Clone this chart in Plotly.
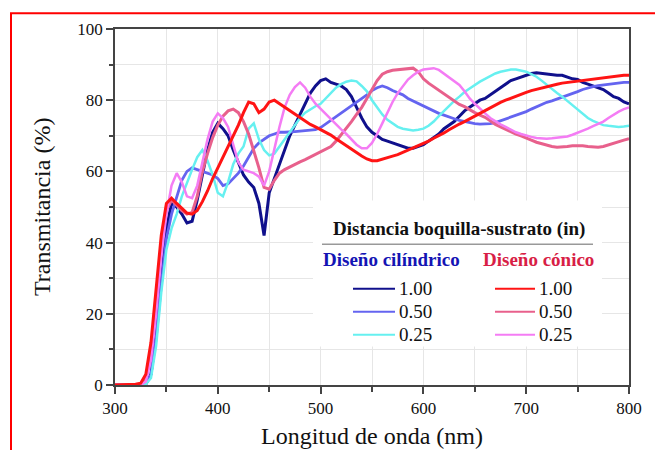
import plotly.graph_objs as go

# WAVELENGTH AXIS (nm)
wavelength = [300, 310, 320] + list(range(325, 801, 5))

# DISENO CILINDRICO, distancia 1.00 / 0.50 / 0.25 in
cil_100 = [0, 0, 0, 0, 0.3, 3, 14, 30, 44, 51, 50, 48, 45.5, 46, 52, 59, 66, 71, 73.5,
           72, 70, 66, 62.5, 59, 57, 55.5, 51, 42, 54, 58, 62, 66, 70, 73, 76, 79, 82, 84,
           85.5, 86, 85, 84.5, 84, 83, 81, 78, 75, 72.5, 71, 70, 69, 68.5, 68, 67.5, 67, 66.5,
           66.5, 67, 67.5, 68.5, 69.5, 70.5, 72, 73, 74, 75.5, 77, 78, 79, 80, 80.5, 81.5,
           82.5, 83.5, 84.5, 85.5, 86, 86.5, 87, 87.5, 87.7, 87.5, 87.5, 87.2, 87, 87, 86.5,
           86, 85.8, 85, 84.5, 84, 83.5, 83, 82, 81, 80.5, 79.5, 79]
cil_050 = [0, 0, 0, 0, 0.2, 3, 13, 28, 41, 48, 53, 57.5, 60, 61, 60.5, 60, 59.5, 59, 58,
           56, 56.5, 58, 59.5, 61.5, 64, 66.5, 68, 69, 70, 70.5, 71, 71, 71, 71.2, 71.3, 71.5,
           71.5, 71.7, 72.3, 73.3, 74.5, 75.5, 76.5, 77.5, 78.5, 79.5, 80.5, 81.5, 82.7, 83.5,
           84, 83.5, 82.7, 82, 81.5, 80.5, 79.8, 79, 78.5, 77.8, 77, 76.3, 75.8, 75.2, 74.8,
           74.3, 74, 73.6, 73.4, 73.3, 73.3, 73.4, 73.7, 74.2, 74.8, 75.3, 75.8, 76.2, 76.8,
           77.5, 78.2, 78.8, 79.4, 79.8, 80.3, 80.8, 81.2, 81.8, 82.4, 83, 83.5, 83.8, 84.1,
           84.3, 84.4, 84.6, 84.8, 85, 85]
cil_025 = [0, 0, 0, 0, 0.2, 2, 11, 26, 38, 44, 48, 53, 57, 60.5, 64, 66, 63, 59, 54,
           53, 57, 62, 65, 67, 72, 73.5, 69, 66, 64.5, 65, 67, 69, 71, 73, 75, 76.5, 77.5,
           78.3, 79, 80.5, 82, 83.5, 84.5, 85.2, 85.5, 85.3, 84, 82.5, 80, 78, 76, 74.5, 73.5,
           72.5, 72, 71.7, 71.5, 71.7, 72, 72.8, 74, 75.5, 77, 78.5, 79.8, 81, 82.3, 83.3,
           84.3, 85.2, 86, 86.8, 87.5, 88, 88.3, 88.6, 88.6, 88.4, 88, 87.3, 86.6, 85.5, 84.3,
           83.2, 82, 81, 79.8, 78.5, 77.2, 76, 75, 74.2, 73.5, 73, 72.8, 72.6, 72.5, 72.6, 72.8]

# DISENO CONICO, distancia 1.00 / 0.50 / 0.25 in
con_100 = [0, 0, 0.2, 0.5, 3, 12, 28, 42, 51, 52.5, 51, 49.5, 48.3, 48, 49, 51.5, 54.5,
           58, 61, 64, 67, 70, 73, 76.5, 79.5, 79, 76.5, 77.5, 79.5, 80, 79, 78, 77, 76, 75,
           74, 73.2, 72.5, 71.8, 71, 70.2, 69.2, 68.2, 67.2, 66.2, 65.2, 64.3, 63.5, 63, 63,
           63.5, 64, 64.3, 64.7, 65.3, 66, 66.7, 67.3, 67.8, 68.5, 69.3, 70, 70.8, 71.7, 72.6,
           73.3, 74, 74.8, 75.5, 76.3, 77.1, 77.9, 78.7, 79.4, 80, 80.6, 81.2, 81.7, 82.2,
           82.7, 83.1, 83.5, 83.9, 84.2, 84.5, 84.8, 85, 85.2, 85.4, 85.6, 85.8, 86, 86.2,
           86.3, 86.5, 86.6, 86.8, 87, 87]
con_050 = [0, 0, 0, 0.3, 2, 9, 24, 39, 49, 52, 50.5, 49, 48, 48.5, 53, 60, 65, 69.5, 73,
           75.5, 77, 77.5, 76.5, 74, 70.5, 66, 61, 55.5, 55, 57.5, 59.5, 60.5, 61.3, 62, 62.7,
           63.3, 64, 64.7, 65.5, 66.3, 67, 68.5, 70.3, 72, 74, 76, 78, 80.5, 83, 85.5, 87.3,
           88, 88.4, 88.6, 88.7, 88.9, 89, 88, 86, 84.8, 83.8, 82.6, 81.8, 80.8, 79.8, 78.8,
           78.2, 77.3, 76.5, 75.8, 75.2, 74.2, 73.2, 72.5, 71.8, 71, 70.5, 70, 69.5, 68.8,
           68.2, 67.8, 67.3, 67, 66.8, 66.8, 67, 67.2, 67.3, 67.2, 67, 66.8, 66.8, 67, 67.5,
           68, 68.3, 68.8, 69.2]
con_025 = [0, 0, 0, 0, 1, 7, 20, 36, 48, 56, 59.5, 57, 53, 52.5, 56, 63, 69, 74, 76.3,
           75, 72.5, 67.5, 62.5, 60.5, 60, 59.5, 58.5, 56, 60, 66.5, 72.5, 78, 81.5, 83.7, 85,
           83.5, 81, 79, 77.5, 76, 74.7, 73.2, 71.8, 70.5, 69, 67.5, 66.5, 66.5, 68, 70.5,
           73.5, 76.5, 79.5, 82, 84, 85.8, 87, 88, 88.6, 88.8, 89, 88.5, 87.5, 86.5, 85.5,
           84.3, 82.5, 80.5, 79, 77.5, 76.3, 75, 74, 73.2, 72.5, 71.7, 71, 70.5, 70, 69.7,
           69.4, 69.2, 69.2, 69.3, 69.5, 69.6, 69.8, 70.3, 70.8, 71.3, 72, 72.7, 73.3, 74, 75,
           76, 76.8, 77.5, 78]

distances = ['1.00', '0.50', '0.25']
cil_series = [cil_100, cil_050, cil_025]
con_series = [con_100, con_050, con_025]
cil_colors = ['#10108c', '#6464f0', '#66f0f0']
con_colors = ['#ff1414', '#e8608c', '#f47cf4']
# noisy spectra look thicker than the smooth ones
cil_widths = [3, 2.8, 2.5]
con_widths = [3, 3, 2.5]

SERIF = 'Liberation Serif, Times New Roman, serif'

trace_arr = []
for i in range(3):
    trace_arr.append(go.Scatter(x=wavelength, y=cil_series[i], mode='lines',
                                name='Cil ' + distances[i], showlegend=False,
                                line=dict(color=cil_colors[i], width=cil_widths[i])))
for i in [1, 2, 0]:
    trace_arr.append(go.Scatter(x=wavelength, y=con_series[i], mode='lines',
                                name='Con ' + distances[i], showlegend=False,
                                line=dict(color=con_colors[i], width=con_widths[i])))


# page pixel -> paper (plot area sits at 115..629 x 24..385 on the page)
def px(x):
    return (x - 115) / 514.0


def py(y):
    return (385 - y) / 361.0


axis_common = dict(showline=True, linecolor='#444', linewidth=1.5, mirror=True,
                   ticks='outside', ticklen=7, tickwidth=1.5, tickcolor='#444',
                   showgrid=True, gridcolor='#e6e6e6', gridwidth=1, zeroline=False,
                   tickfont=dict(family=SERIF, size=17, color='#111'))

# page body has an 8px margin, so the figure is 8px smaller than the window
layout = go.Layout(
    width=655, height=442, autosize=False,
    margin=dict(l=107, r=34, t=16, b=65),
    paper_bgcolor='white', plot_bgcolor='white',
    xaxis=dict(range=[300, 800], dtick=100, tick0=300,
               minor=dict(dtick=50, ticks='outside', ticklen=5, tickcolor='#444',
                          showgrid=True, gridcolor='#e6e6e6'),
               **axis_common),
    yaxis=dict(range=[0, 100], dtick=20, tick0=0,
               minor=dict(dtick=10, ticks='outside', ticklen=4, tickcolor='#444',
                          showgrid=True, gridcolor='#e6e6e6'),
               **axis_common),
)

shapes = [
    # outer red frame
    dict(type='rect', xref='paper', yref='paper', x0=px(11), x1=px(660), y0=py(470), y1=py(8),
         line=dict(color='#ff0000', width=2)),
    # legend white box
    dict(type='rect', xref='paper', yref='paper', x0=px(313), x1=px(602), y0=py(346), y1=py(198),
         fillcolor='white', line=dict(width=0), layer='above'),
    # legend separator
    dict(type='line', xref='paper', yref='paper', x0=px(322), x1=px(593), y0=py(242.3), y1=py(242.3),
         line=dict(color='#999', width=1.5), layer='above'),
]

annotations = [
    dict(text='Transmitancia (%)', xref='paper', yref='paper', x=px(42), y=0.5, textangle=-90,
         showarrow=False, xanchor='center', yanchor='middle', font=dict(family=SERIF, size=24, color='#111')),
    dict(text='Longitud de onda (nm)', xref='paper', yref='paper', x=px(372), y=py(437),
         showarrow=False, xanchor='center', yanchor='middle', font=dict(family=SERIF, size=24, color='#111')),
    dict(text='<b>Distancia boquilla-sustrato (in)</b>', xref='paper', yref='paper', x=px(458.5), y=py(227),
         showarrow=False, xanchor='center', yanchor='middle', font=dict(family=SERIF, size=19, color='#111')),
    dict(text='<b>Diseño cilíndrico</b>', xref='paper', yref='paper', x=px(391.5), y=py(258),
         showarrow=False, xanchor='center', yanchor='middle', font=dict(family=SERIF, size=19, color='#1414b4')),
    dict(text='<b>Diseño cónico</b>', xref='paper', yref='paper', x=px(538.5), y=py(258),
         showarrow=False, xanchor='center', yanchor='middle', font=dict(family=SERIF, size=19, color='#d81e46')),
]

# LEGEND ROWS
row_y = [287.3, 310.7, 334]
for i in range(3):
    for x0, x1, color in [(353, 395, cil_colors[i]), (495, 535, con_colors[i])]:
        shapes.append(dict(type='line', xref='paper', yref='paper', x0=px(x0), x1=px(x1),
                           y0=py(row_y[i]), y1=py(row_y[i]), line=dict(color=color, width=2),
                           layer='above'))
        annotations.append(dict(text=distances[i], xref='paper', yref='paper', x=px(x1 + 2),
                                y=py(row_y[i]), showarrow=False, xanchor='left', yanchor='middle',
                                font=dict(family=SERIF, size=19, color='#111')))

layout['shapes'] = shapes
layout['annotations'] = annotations

fig = go.Figure(data=trace_arr, layout=layout)
fig.write_html('out.html')
